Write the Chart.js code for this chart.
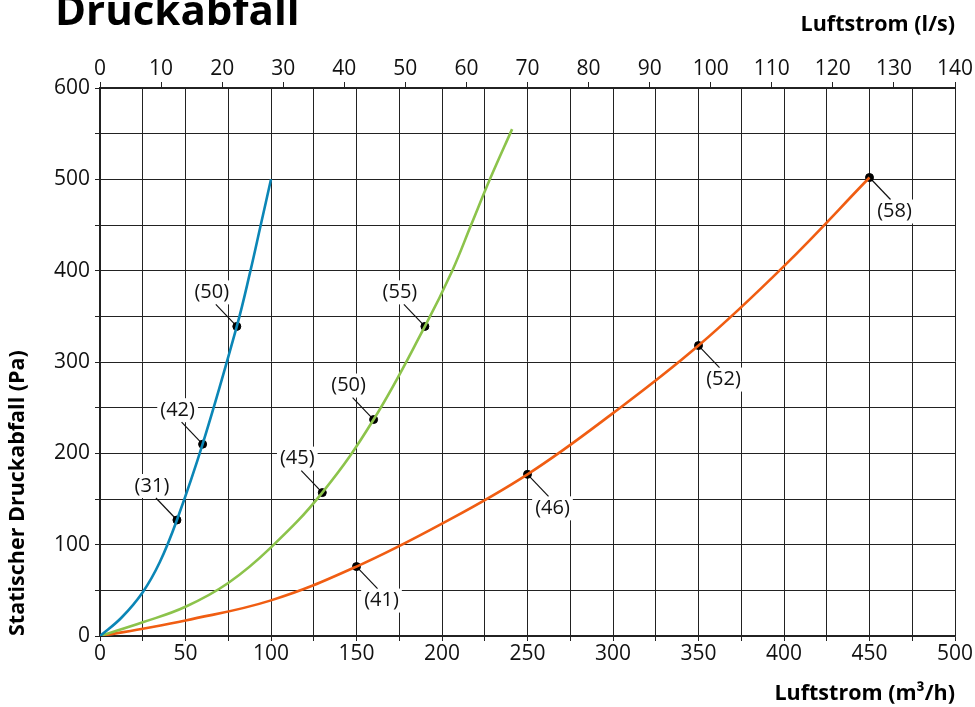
<!DOCTYPE html>
<html>
<head>
<meta charset="utf-8">
<script src="https://cdn.jsdelivr.net/npm/chart.js@4/dist/chart.umd.min.js"></script>
<style>
  body { margin: 0; background: #fff; }
</style>
</head>
<body>
<canvas id="chart" width="975" height="707"></canvas>
<script>
// curves: airflow (m3/h) vs static pressure drop (Pa)
const blueFlow = [0, 12.5, 25, 35, 45, 60, 80, 88, 94, 100];
const bluePa = [0, 20, 48, 81, 127, 210, 339, 400, 450, 500];

const greenFlow = [0, 25, 50, 75, 100, 130, 160, 190, 206, 217, 228, 241];
const greenPa = [0, 15, 32, 58, 97, 157, 237, 339, 400, 450, 500, 555];

const orangeFlow = [0, 25, 50, 100, 150, 200, 250, 300, 350, 400, 450];
const orangePa = [0, 8, 17, 39, 76, 123, 177, 244, 318, 405, 502];

// marked operating points with sound level labels
const blueMarkFlow = [45, 60, 80];
const blueMarkPa = [127, 210, 339];
const blueMarkText = ['(31)', '(42)', '(50)'];

const greenMarkFlow = [130, 160, 190];
const greenMarkPa = [157, 237, 339];
const greenMarkText = ['(45)', '(50)', '(55)'];

const orangeMarkFlow = [150, 250, 350, 450];
const orangeMarkPa = [76, 177, 318, 502];
const orangeMarkText = ['(41)', '(46)', '(52)', '(58)'];

const FONT = '"Open Sans", "Noto Sans", sans-serif';
const GRID = '#222';

const toPoints = (xs, ys) => xs.map((x, i) => ({ x: x, y: ys[i] }));

const markGroups = [
  { xs: blueMarkFlow, ys: blueMarkPa, text: blueMarkText, side: 'upLeft' },
  { xs: greenMarkFlow, ys: greenMarkPa, text: greenMarkText, side: 'upLeft' },
  { xs: orangeMarkFlow, ys: orangeMarkPa, text: orangeMarkText, side: 'downRight' },
];

const markLabels = {
  id: 'markLabels',
  beforeDatasetsDraw(chart) {
    const ctx = chart.ctx;
    const sx = chart.scales.x;
    const sy = chart.scales.y;
    ctx.save();
    ctx.font = '20px ' + FONT;
    ctx.textAlign = 'center';
    ctx.textBaseline = 'middle';
    markGroups.forEach((g) => {
      const dir = g.side === 'upLeft' ? -1 : 1;
      g.xs.forEach((v, i) => {
        const px = sx.getPixelForValue(v);
        const py = sy.getPixelForValue(g.ys[i]);
        const lx = px + dir * 25;
        const ly = py + dir * 34;
        const w = ctx.measureText(g.text[i]).width;
        ctx.fillStyle = '#fff';
        ctx.fillRect(lx - w / 2 - 3, ly - 12, w + 6, 24);
        ctx.fillStyle = '#111';
        ctx.fillText(g.text[i], lx, ly);
        ctx.strokeStyle = '#111';
        ctx.lineWidth = 1.2;
        ctx.beginPath();
        ctx.moveTo(px, py);
        ctx.lineTo(px + dir * 21, py + dir * 22);
        ctx.stroke();
      });
    });
    ctx.restore();
  },
  afterDraw(chart) {
    const ctx = chart.ctx;
    ctx.save();
    ctx.font = 'bold 42px ' + FONT;
    ctx.fillStyle = '#000';
    ctx.textAlign = 'left';
    ctx.textBaseline = 'alphabetic';
    ctx.fillText('Druckabfall', 55, 25);
    ctx.restore();
  },
};

const allMarks = markGroups.flatMap((g) => toPoints(g.xs, g.ys));

new Chart(document.getElementById('chart'), {
  type: 'line',
  data: {
    datasets: [
      {
        data: toPoints(blueFlow, bluePa),
        borderColor: '#0b86b6',
        borderWidth: 2.6,
        pointRadius: 0,
        tension: 0.4,
        fill: false,
      },
      {
        data: toPoints(greenFlow, greenPa),
        borderColor: '#8cc34b',
        borderWidth: 2.6,
        pointRadius: 0,
        tension: 0.4,
        fill: false,
      },
      {
        data: toPoints(orangeFlow, orangePa),
        borderColor: '#f05d12',
        borderWidth: 2.6,
        pointRadius: 0,
        tension: 0.4,
        fill: false,
      },
      {
        type: 'scatter',
        data: allMarks,
        backgroundColor: '#000',
        borderColor: '#000',
        pointRadius: 4,
        showLine: false,
      },
    ],
  },
  options: {
    responsive: false,
    animation: false,
    layout: { padding: { left: 0, right: 20, top: 0, bottom: 0 } },
    plugins: {
      legend: { display: false },
      tooltip: { enabled: false },
    },
    scales: {
      x: {
        type: 'linear',
        position: 'bottom',
        min: 0,
        max: 500,
        afterFit: (s) => { s.height = 71; },
        ticks: {
          stepSize: 25,
          autoSkip: false,
          maxRotation: 0,
          padding: 0,
          color: '#111',
          font: { family: FONT, size: 21 },
          callback: (v) => (v % 50 === 0 ? v : ''),
        },
        grid: { color: GRID, lineWidth: 1, tickLength: 5 },
        border: { color: GRID, width: 1.2 },
        title: {
          display: true,
          text: 'Luftstrom (m³/h)',
          align: 'end',
          color: '#000',
          padding: { top: 0, bottom: 0 },
          font: { family: FONT, size: 21.5, weight: 'bold' },
        },
      },
      x2: {
        type: 'linear',
        position: 'top',
        min: 0,
        max: 140,
        afterFit: (s) => { s.height = 88; },
        ticks: {
          stepSize: 10,
          autoSkip: false,
          maxRotation: 0,
          padding: 0,
          color: '#111',
          font: { family: FONT, size: 21 },
        },
        grid: { drawOnChartArea: false, color: GRID, tickLength: 6 },
        border: { color: GRID, width: 1.2 },
        title: {
          display: true,
          text: 'Luftstrom (l/s)',
          align: 'end',
          color: '#000',
          padding: { top: 12, bottom: 0 },
          font: { family: FONT, size: 21.5, weight: 'bold' },
        },
      },
      y: {
        min: 0,
        max: 600,
        afterFit: (s) => { s.width = 100; },
        ticks: {
          stepSize: 50,
          autoSkip: false,
          padding: 5,
          color: '#111',
          font: { family: FONT, size: 21 },
          callback: (v) => (v % 100 === 0 ? v : ''),
        },
        grid: { color: GRID, lineWidth: 1, tickLength: 5 },
        border: { color: GRID, width: 1.2 },
        title: {
          display: true,
          text: 'Statischer Druckabfall (Pa)',
          align: 'start',
          color: '#000',
          padding: { top: 5, bottom: 0 },
          font: { family: FONT, size: 21.5, weight: 'bold' },
        },
      },
    },
  },
  plugins: [markLabels],
});
</script>
</body>
</html>
